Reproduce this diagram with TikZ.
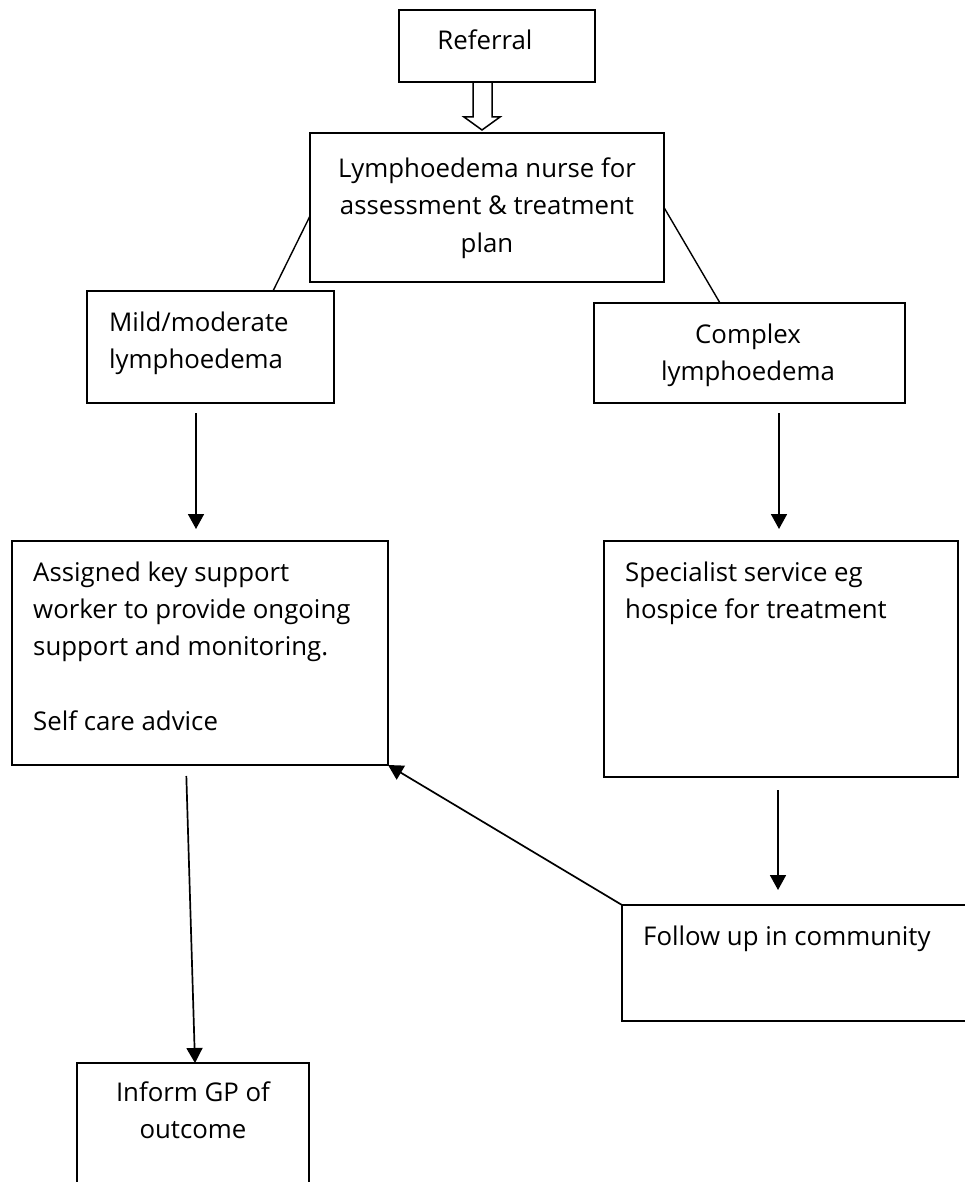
\documentclass[tikz,border=0pt]{standalone}
\usepackage{fontspec}
\setmainfont{Open Sans}
\usetikzlibrary{positioning,arrows.meta,calc}

\begin{document}
\begin{tikzpicture}[
    x=1pt, y=-1pt,
    font=\fontsize{25.8}{37}\selectfont,
    box/.style={rectangle, draw, line width=2pt, inner sep=0pt, outer sep=0pt, anchor=north west},
    txt/.style={inner sep=0pt, anchor=base west, align=left},
    ctxt/.style={inner sep=0pt, anchor=base, align=center},
    arr/.style={-{Triangle[length=15pt, width=16pt]}, line width=1.7pt},
    link/.style={line width=1.4pt},
    hollow/.style={line width=1.5pt, line join=miter}
]
\useasboundingbox (0,0) rectangle (964,1182);

% ============================================================
% BOXES
% ============================================================
\node[box, minimum width=196pt, minimum height=72pt]  (referral) at (399,10)   {};
\node[box, minimum width=354pt, minimum height=149pt] (nurse)    at (310,133)  {};
\node[box, minimum width=247pt, minimum height=112pt] (mild)     at (87,291)   {};
\node[box, minimum width=311pt, minimum height=100pt] (complex)  at (594,303)  {};
\node[box, minimum width=376pt, minimum height=224pt] (assigned) at (12,541)   {};
\node[box, minimum width=354pt, minimum height=236pt] (spec)     at (604,541)  {};
\node[box, minimum width=400pt, minimum height=116pt] (follow)   at (622,905)  {};
\node[box, minimum width=232pt, minimum height=160pt] (inform)   at (77,1063)  {};

% ============================================================
% TEXTS (base = baseline of the last line)
% ============================================================
\node[ctxt] (referraltxt) at ($(referral.center)+(-12,4)$) {Referral};
\node[ctxt] (nursetxt)    at ($(nurse.center)+(0,44.5)$)
    {Lymphoedema nurse for\\assessment \& treatment\\plan};
\node[txt]  (mildtxt)     at ($(mild.north west)+(22,77)$) {Mild/moderate\\lymphoedema};
\node[ctxt] (complextxt)  at ($(complex.center)+(-1.5,27)$) {Complex\\lymphoedema};
\node[txt]  (assignedtxt) at ($(assigned.north west)+(21,189)$)
    {Assigned key support\\worker to provide ongoing\\support and monitoring.\\[38pt]Self care advice};
\node[txt]  (spectxt)     at ($(spec.north west)+(21,77)$) {Specialist service eg\\hospice for treatment};
\node[txt]  (followtxt)   at ($(follow.north west)+(21,40)$) {Follow up in community};
\node[ctxt] (informtxt)   at ($(inform.north)+(0,75)$) {Inform GP of\\outcome};

% ============================================================
% CONNECTORS
% ============================================================
\draw[hollow] ($(referral.south)+(-24,0)$) -- ++(0,35) -- ++(-9,0)
    -- ($(nurse.north)+(-5,-3)$) -- ++(18,-13) -- ++(-8,0) -- ++(0,-35) -- cycle;

\draw[link] ([yshift=-8.5pt]nurse.west) -- ([xshift=62.5pt]mild.north);
\draw[link] (nurse.east) -- ([xshift=-29.5pt]complex.north);

\draw[arr, shorten <=10pt, shorten >=12pt] ([xshift=-14.5pt]mild.south) -- ([xshift=-14.5pt]mild.south |- assigned.north);
\draw[arr, shorten <=10pt, shorten >=12pt] ([xshift=29.5pt]complex.south) -- ([xshift=29.5pt]complex.south |- spec.north);
\draw[arr, shorten <=13pt, shorten >=15pt] ([xshift=-3pt]spec.south) -- ([xshift=-3pt]spec.south |- follow.north);
\draw[arr, shorten <=11pt] ([xshift=-14pt]assigned.south) -- ([xshift=2pt]inform.north);
\draw[arr] (follow.north west) -- (assigned.south east);

\end{tikzpicture}
\end{document}
